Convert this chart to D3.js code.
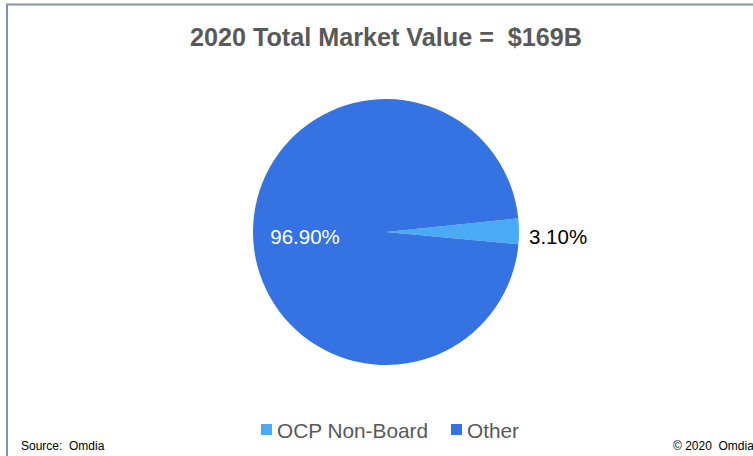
<!DOCTYPE html>
<html><head><meta charset="utf-8">
<script src="https://cdn.jsdelivr.net/npm/d3@7"></script>
<style>body{margin:0;background:#fff;}svg{display:block;}text{white-space:pre;}</style>
</head><body>
<svg id="chart" width="753" height="456"></svg>
<script>
const categories = ["OCP Non-Board", "Other"];
const values = [3.10, 96.90];
const labels = ["3.10%", "96.90%"];
const colors = ["#4aaaf6", "#3473e1"];
const title = "2020 Total Market Value =  $169B";

const svg = d3.select("#chart");
const W = 753, H = 456;
svg.append("rect").attr("x", 7).attr("y", 4.5).attr("width", W + 10).attr("height", H + 10)
  .attr("fill", "#fff").attr("stroke", "#8593a5").attr("stroke-width", 2);

svg.append("text").attr("x", 190).attr("y", 46)
  .attr("font-family", "'Liberation Sans Narrow','Arial Narrow','Liberation Sans',Arial,sans-serif")
  .attr("font-weight", "bold").attr("font-size", 25).attr("fill", "#595959")
  .attr("textLength", 392).attr("lengthAdjust", "spacingAndGlyphs").text(title);

const cx = 386, cy = 232, r = 133;
const start = 84.1 * Math.PI / 180;
const pie = d3.pie().sort(null).value(d => d).startAngle(start).endAngle(start + 2 * Math.PI);
const arcs = pie(values);
const arc = d3.arc().innerRadius(0).outerRadius(r);
const g = svg.append("g").attr("transform", `translate(${cx},${cy})`);
g.selectAll("path").data(arcs).join("path").attr("d", arc).attr("fill", (d, i) => colors[i]);

// labels
const lab = svg.append("g").attr("font-family", "'Liberation Sans',Arial,sans-serif").attr("font-size", 20.5);
lab.append("text").attr("x", 529).attr("y", 243.5).attr("fill", "#000").text(labels[0]);
lab.append("text").attr("x", 305).attr("y", 243.5).attr("text-anchor", "middle").attr("fill", "#fff").text(labels[1]);

// legend
const leg = svg.append("g").attr("font-family", "'Liberation Sans',Arial,sans-serif").attr("font-size", 20.8).attr("fill", "#595959");
const legX = [261, 451];
categories.forEach((c, i) => {
  leg.append("rect").attr("x", legX[i]).attr("y", 424).attr("width", 11).attr("height", 11).attr("fill", colors[i]);
  leg.append("text").attr("x", legX[i] + 16).attr("y", 438).text(c);
});

const foot = svg.append("g").attr("font-family", "'Liberation Sans',Arial,sans-serif").attr("font-size", 12).attr("fill", "#000");
foot.append("text").attr("x", 21).attr("y", 450).text("Source:  Omdia");
foot.append("text").attr("x", 673).attr("y", 450).text("© 2020  Omdia");
</script>
</body></html>
